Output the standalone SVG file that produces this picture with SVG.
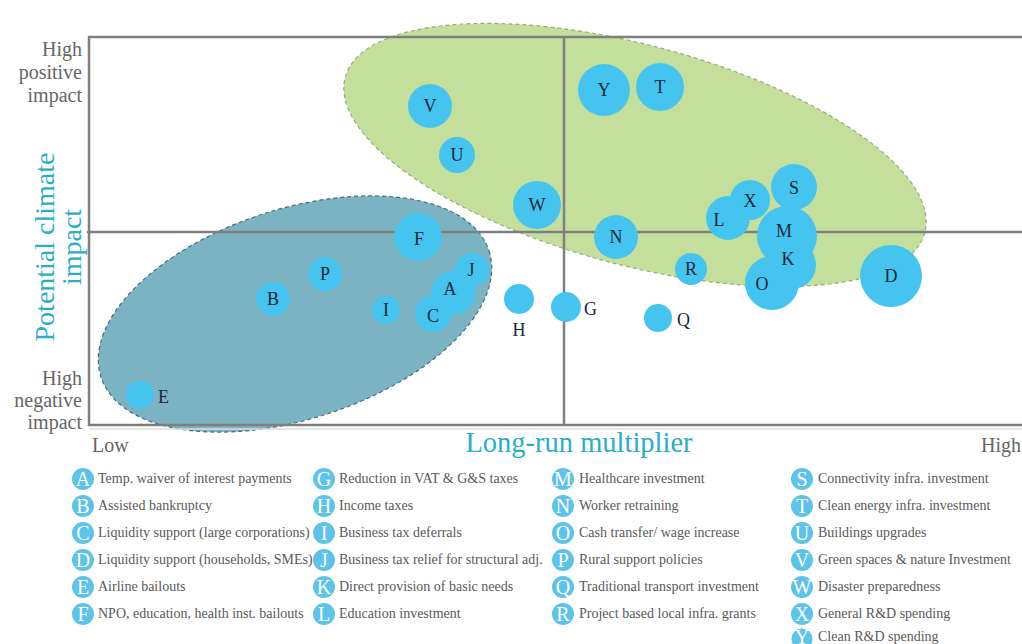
<svg xmlns="http://www.w3.org/2000/svg" width="1022" height="644" viewBox="0 0 1022 644">
<style>
.frame{stroke:#7f7f7f;stroke-width:2.5;fill:none}
.b{fill:#45c4f0}
.lbl{font-family:"Liberation Serif","DejaVu Serif",serif;font-size:18px;fill:#1b2838;text-anchor:middle}
.lbl2{font-family:"Liberation Serif","DejaVu Serif",serif;font-size:18px;fill:#1b2838}
.ax{font-family:"Liberation Serif","DejaVu Serif",serif;font-size:20px;fill:#666666}
.axc{font-family:"Liberation Serif","DejaVu Serif",serif;fill:#2aaec8}
.lc{fill:#5ec3e8}
.ll{font-family:"Liberation Serif","DejaVu Serif",serif;font-size:20px;fill:#ffffff;text-anchor:middle}
.lt{font-family:"Liberation Serif","DejaVu Serif",serif;font-size:14px;fill:#595959}
</style>
<rect width="1022" height="644" fill="#ffffff"/>
<g id="clusters">
<ellipse cx="635" cy="155" rx="300" ry="110" transform="rotate(15 635 155)" fill="#c4df9b" stroke="#94ad78" stroke-width="1.2" stroke-dasharray="4 3"/>
<ellipse cx="295" cy="314" rx="204" ry="105" transform="rotate(-18 295 314)" fill="#7bb3c3" stroke="#3f6f82" stroke-width="1.2" stroke-dasharray="4 3"/>
</g>
<g id="frame">
<line x1="89" y1="429" x2="1022" y2="429" stroke="#dddddd" stroke-width="1.5"/>
<path class="frame" d="M1022 37 H89 V425 H1022"/>
<line class="frame" x1="564" y1="37" x2="564" y2="425"/>
<line class="frame" x1="87" y1="232" x2="1022" y2="232"/>
</g>
<g id="axes">
<text class="ax" text-anchor="end" x="82" y="56">High</text>
<text class="ax" text-anchor="end" x="82" y="79">positive</text>
<text class="ax" text-anchor="end" x="82" y="102">impact</text>
<text class="ax" text-anchor="end" x="82" y="385">High</text>
<text class="ax" text-anchor="end" x="82" y="407">negative</text>
<text class="ax" text-anchor="end" x="82" y="429">impact</text>
<text class="axc" font-size="28" text-anchor="middle" transform="translate(54 247) rotate(-90)">Potential climate</text>
<text class="axc" font-size="28" text-anchor="middle" transform="translate(81 247) rotate(-90)">impact</text>
<text class="ax" x="92" y="452" font-size="18.5">Low</text>
<text class="ax" x="981" y="452" font-size="18.5">High</text>
<text class="axc" font-size="28.5" text-anchor="middle" x="579" y="452">Long-run multiplier</text>
</g>
<g id="connectors"></g>
<g id="node-V"><circle class="b" cx="430" cy="106" r="22"/><text class="lbl" x="430" y="112">V</text></g>
<g id="node-U"><circle class="b" cx="457" cy="155" r="18"/><text class="lbl" x="457" y="161">U</text></g>
<g id="node-Y"><circle class="b" cx="604" cy="90" r="26"/><text class="lbl" x="604" y="96">Y</text></g>
<g id="node-T"><circle class="b" cx="660" cy="87" r="24"/><text class="lbl" x="660" y="93">T</text></g>
<g id="node-W"><circle class="b" cx="537" cy="205" r="24"/><text class="lbl" x="537" y="211">W</text></g>
<g id="node-N"><circle class="b" cx="616" cy="237" r="22"/><text class="lbl" x="616" y="243">N</text></g>
<g id="node-L"><circle class="b" cx="728" cy="218" r="22"/><text class="lbl" x="719" y="226">L</text></g>
<g id="node-X"><circle class="b" cx="750" cy="200" r="20"/><text class="lbl" x="750" y="207">X</text></g>
<g id="node-S"><circle class="b" cx="794" cy="187" r="23"/><text class="lbl" x="794" y="194">S</text></g>
<g id="node-M"><circle class="b" cx="787" cy="236" r="30"/><text class="lbl" x="784" y="237">M</text></g>
<g id="node-O"><circle class="b" cx="772" cy="283" r="27"/><text class="lbl" x="762" y="290">O</text></g>
<g id="node-K"><circle class="b" cx="792" cy="265" r="24"/><text class="lbl" x="788" y="265">K</text></g>
<g id="node-R"><circle class="b" cx="691" cy="269" r="16"/><text class="lbl" x="691" y="275">R</text></g>
<g id="node-D"><circle class="b" cx="891" cy="276" r="31"/><text class="lbl" x="891" y="282">D</text></g>
<g id="node-F"><circle class="b" cx="418" cy="237" r="24"/><text class="lbl" x="419" y="245">F</text></g>
<g id="node-P"><circle class="b" cx="325" cy="274" r="17"/><text class="lbl" x="325" y="280">P</text></g>
<g id="node-B"><circle class="b" cx="273" cy="299" r="17"/><text class="lbl" x="273" y="305">B</text></g>
<g id="node-I"><circle class="b" cx="386" cy="310" r="14"/><text class="lbl" x="386" y="316">I</text></g>
<g id="node-J"><circle class="b" cx="472" cy="270" r="17"/><text class="lbl" x="471" y="276">J</text></g>
<g id="node-A"><circle class="b" cx="453" cy="293" r="22"/><text class="lbl" x="450" y="295">A</text></g>
<g id="node-C"><circle class="b" cx="433" cy="314" r="18"/><text class="lbl" x="433" y="322">C</text></g>
<g id="node-H"><circle class="b" cx="519" cy="299" r="15"/><text class="lbl" x="519" y="336">H</text></g>
<g id="node-G"><circle class="b" cx="566" cy="307" r="15"/><text class="lbl2" x="584" y="315">G</text></g>
<g id="node-Q"><circle class="b" cx="658" cy="318" r="14"/><text class="lbl2" x="677" y="326">Q</text></g>
<g id="node-E"><circle class="b" cx="140" cy="395" r="14"/><text class="lbl2" x="158" y="403">E</text></g>
<g id="legend">
<g id="leg-A"><circle class="lc" cx="83" cy="479" r="11"/><text class="ll" x="83" y="486">A</text><text class="lt" x="98" y="483">Temp. waiver of interest payments</text></g>
<g id="leg-B"><circle class="lc" cx="83" cy="506" r="11"/><text class="ll" x="83" y="513">B</text><text class="lt" x="98" y="510">Assisted bankruptcy</text></g>
<g id="leg-C"><circle class="lc" cx="83" cy="533" r="11"/><text class="ll" x="83" y="540">C</text><text class="lt" x="98" y="537">Liquidity support (large corporations)</text></g>
<g id="leg-D"><circle class="lc" cx="83" cy="560" r="11"/><text class="ll" x="83" y="567">D</text><text class="lt" x="98" y="564">Liquidity support (households, SMEs)</text></g>
<g id="leg-E"><circle class="lc" cx="83" cy="587" r="11"/><text class="ll" x="83" y="594">E</text><text class="lt" x="98" y="591">Airline bailouts</text></g>
<g id="leg-F"><circle class="lc" cx="83" cy="614" r="11"/><text class="ll" x="83" y="621">F</text><text class="lt" x="98" y="618">NPO, education, health inst. bailouts</text></g>
<g id="leg-G"><circle class="lc" cx="324" cy="479" r="11"/><text class="ll" x="324" y="486">G</text><text class="lt" x="339" y="483">Reduction in VAT &amp; G&amp;S taxes</text></g>
<g id="leg-H"><circle class="lc" cx="324" cy="506" r="11"/><text class="ll" x="324" y="513">H</text><text class="lt" x="339" y="510">Income taxes</text></g>
<g id="leg-I"><circle class="lc" cx="324" cy="533" r="11"/><text class="ll" x="324" y="540">I</text><text class="lt" x="339" y="537">Business tax deferrals</text></g>
<g id="leg-J"><circle class="lc" cx="324" cy="560" r="11"/><text class="ll" x="324" y="567">J</text><text class="lt" x="339" y="564">Business tax relief for structural adj.</text></g>
<g id="leg-K"><circle class="lc" cx="324" cy="587" r="11"/><text class="ll" x="324" y="594">K</text><text class="lt" x="339" y="591">Direct provision of basic needs</text></g>
<g id="leg-L"><circle class="lc" cx="324" cy="614" r="11"/><text class="ll" x="324" y="621">L</text><text class="lt" x="339" y="618">Education investment</text></g>
<g id="leg-M"><circle class="lc" cx="563" cy="479" r="11"/><text class="ll" x="563" y="486">M</text><text class="lt" x="579" y="483">Healthcare investment</text></g>
<g id="leg-N"><circle class="lc" cx="563" cy="506" r="11"/><text class="ll" x="563" y="513">N</text><text class="lt" x="579" y="510">Worker retraining</text></g>
<g id="leg-O"><circle class="lc" cx="563" cy="533" r="11"/><text class="ll" x="563" y="540">O</text><text class="lt" x="579" y="537">Cash transfer/ wage increase</text></g>
<g id="leg-P"><circle class="lc" cx="563" cy="560" r="11"/><text class="ll" x="563" y="567">P</text><text class="lt" x="579" y="564">Rural support policies</text></g>
<g id="leg-Q"><circle class="lc" cx="563" cy="587" r="11"/><text class="ll" x="563" y="594">Q</text><text class="lt" x="579" y="591">Traditional transport investment</text></g>
<g id="leg-R"><circle class="lc" cx="563" cy="614" r="11"/><text class="ll" x="563" y="621">R</text><text class="lt" x="579" y="618">Project based local infra. grants</text></g>
<g id="leg-S"><circle class="lc" cx="802" cy="479" r="11"/><text class="ll" x="802" y="486">S</text><text class="lt" x="818" y="483">Connectivity infra. investment</text></g>
<g id="leg-T"><circle class="lc" cx="802" cy="506" r="11"/><text class="ll" x="802" y="513">T</text><text class="lt" x="818" y="510">Clean energy infra. investment</text></g>
<g id="leg-U"><circle class="lc" cx="802" cy="533" r="11"/><text class="ll" x="802" y="540">U</text><text class="lt" x="818" y="537">Buildings upgrades</text></g>
<g id="leg-V"><circle class="lc" cx="802" cy="560" r="11"/><text class="ll" x="802" y="567">V</text><text class="lt" x="818" y="564">Green spaces &amp; nature Investment</text></g>
<g id="leg-W"><circle class="lc" cx="802" cy="587" r="11"/><text class="ll" x="802" y="594">W</text><text class="lt" x="818" y="591">Disaster preparedness</text></g>
<g id="leg-X"><circle class="lc" cx="802" cy="614" r="11"/><text class="ll" x="802" y="621">X</text><text class="lt" x="818" y="618">General R&amp;D spending</text></g>
<g id="leg-Y"><circle class="lc" cx="802" cy="639" r="10.5"/><text class="ll" x="802" y="644" font-size="18">Y</text><text class="lt" x="818" y="641">Clean R&amp;D spending</text></g>
</g>
</svg>
